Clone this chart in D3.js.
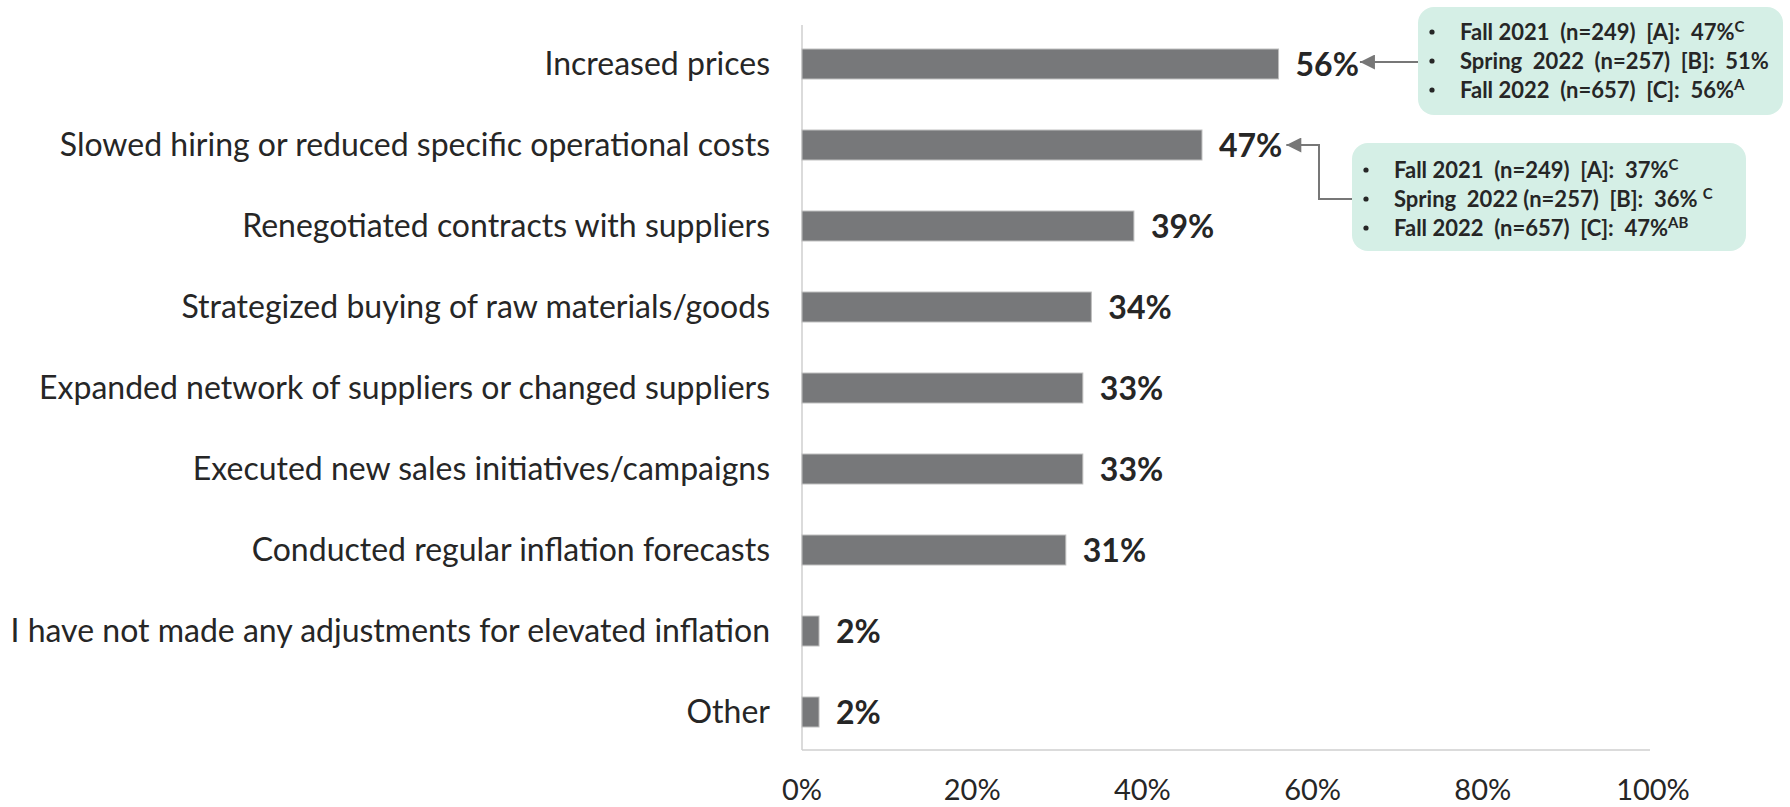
<!DOCTYPE html>
<meta charset="utf-8">
<style>
  body { margin: 0; background: #fff; }
  svg { font-family: Lato, "Open Sans", sans-serif; }
  .cat-label { fill: #262626; font-size: 32px; text-anchor: end; }
  .val-label { fill: #262626; font-size: 32px; font-weight: 700; }
  .tick-label { fill: #262626; font-size: 29px; text-anchor: middle; }
  .note { fill: #262626; font-size: 22px; font-weight: 700; white-space: pre; }
</style>
<body>
<script src="https://cdn.jsdelivr.net/npm/d3@7"></script>
<script>

var width = 1790,
    height = 807;

// data
var categories = [
  "Increased prices",
  "Slowed hiring or reduced specific operational costs",
  "Renegotiated contracts with suppliers",
  "Strategized buying of raw materials/goods",
  "Expanded network of suppliers or changed suppliers",
  "Executed new sales initiatives/campaigns",
  "Conducted regular inflation forecasts",
  "I have not made any adjustments for elevated inflation",
  "Other"
];
var values = [56, 47, 39, 34, 33, 33, 31, 2, 2];
var xTicks = [0, 20, 40, 60, 80, 100];

// call-out notes: [text, superscript]
var notePrices = [
  ["Fall 2021  (n=249)  [A]:  47%", "C"],
  ["Spring  2022  (n=257)  [B]:  51%", ""],
  ["Fall 2022  (n=657)  [C]:  56%", "A"]
];
var noteHiring = [
  ["Fall 2021  (n=249)  [A]:  37%", "C"],
  ["Spring  2022 (n=257)  [B]:  36% ", "C"],
  ["Fall 2022  (n=657)  [C]:  47%", "AB"]
];

var svg = d3.select("body").append("svg")
    .attr("width", width)
    .attr("height", height);

var x = d3.scaleLinear().domain([0, 100]).range([802, 1653]);
var y = d3.scaleBand().domain(categories)
    .range([23.5, 752.5])
    .paddingInner(0.63)
    .paddingOuter(0.315);

var rows = categories.map(function(c, i) { return {cat: c, v: values[i]}; });

// axes lines
svg.append("line")
  .attr("x1", x(0)).attr("x2", x(0))
  .attr("y1", 25).attr("y2", 750)
  .attr("stroke", "#cfcfcf").attr("stroke-width", 1.5);
svg.append("line")
  .attr("x1", x(0)).attr("x2", 1650)
  .attr("y1", 750).attr("y2", 750)
  .attr("stroke", "#cfcfcf").attr("stroke-width", 1.5);

// bars
svg.selectAll(".bar")
  .data(rows)
  .enter().append("rect")
  .attr("class", "bar")
  .attr("x", x(0))
  .attr("y", function(d) { return y(d.cat); })
  .attr("width", function(d) { return x(d.v) - x(0); })
  .attr("height", y.bandwidth())
  .attr("fill", "#77787a")
  .attr("stroke", "#bdbdbd")
  .attr("stroke-width", 1);

// category labels
svg.selectAll(".cat-label")
  .data(rows)
  .enter().append("text")
  .attr("class", "cat-label")
  .attr("x", 770)
  .attr("y", function(d) { return y(d.cat) + y.bandwidth() / 2; })
  .attr("dy", ".35em")
  .text(function(d) { return d.cat; });

// value labels
var valLabels = svg.selectAll(".val-label")
  .data(rows)
  .enter().append("text")
  .attr("class", "val-label")
  .attr("x", function(d) { return x(d.v) + 17; })
  .attr("y", function(d) { return y(d.cat) + y.bandwidth() / 2; })
  .attr("dy", ".37em")
  .text(function(d) { return d.v + "%"; });

// tick labels
svg.selectAll(".tick-label")
  .data(xTicks)
  .enter().append("text")
  .attr("class", "tick-label")
  .attr("x", function(d) { return x(d); })
  .attr("y", 800)
  .text(function(d) { return d + "%"; });

// call-out boxes
function noteBox(lines, bx, by, bw, bh, rowY0) {
  var g = svg.append("g");
  g.append("rect")
    .attr("x", bx).attr("y", by)
    .attr("width", bw).attr("height", bh)
    .attr("rx", 16)
    .attr("fill", "#d5efe6");
  lines.forEach(function(l, i) {
    var ty = rowY0 + i * 29;
    g.append("circle")
      .attr("cx", bx + 14).attr("cy", ty)
      .attr("r", 2.6).attr("fill", "#262626");
    var t = g.append("text")
      .attr("class", "note")
      .attr("x", bx + 42)
      .attr("y", ty)
      .attr("dy", ".36em");
    t.append("tspan").text(l[0]);
    if (l[1]) {
      t.append("tspan")
        .attr("font-size", "15px")
        .attr("dy", "-0.55em")
        .text(l[1]);
    }
  });
  return g;
}

noteBox(notePrices, 1418, 7, 365, 108, 32);
noteBox(noteHiring, 1352, 143, 394, 108, 170);

// arrows
var defs = svg.append("defs");
defs.append("marker")
  .attr("id", "arrow")
  .attr("viewBox", "0 0 10 10")
  .attr("refX", 10).attr("refY", 5)
  .attr("markerWidth", 16).attr("markerHeight", 15)
  .attr("markerUnits", "userSpaceOnUse")
  .attr("orient", "auto")
  .append("path")
  .attr("d", "M0,0 L10,5 L0,10 Z")
  .attr("fill", "#777");

var labelEnd = [];
valLabels.each(function(d, i) {
  labelEnd[i] = x(d.v) + 17 + this.getComputedTextLength();
});

var cy0 = y(categories[0]) + y.bandwidth() / 2;
var cy1 = y(categories[1]) + y.bandwidth() / 2;

svg.append("path")
  .attr("d", "M1418," + (cy0 - 2) + " L" + (labelEnd[0] + 1) + "," + (cy0 - 2))
  .attr("fill", "none")
  .attr("stroke", "#777").attr("stroke-width", 2)
  .attr("marker-end", "url(#arrow)");

svg.append("path")
  .attr("d", "M1352,199 L1319,199 L1319," + cy1 + " L" + (labelEnd[1] + 4) + "," + cy1)
  .attr("fill", "none")
  .attr("stroke", "#777").attr("stroke-width", 2)
  .attr("marker-end", "url(#arrow)");

</script>
